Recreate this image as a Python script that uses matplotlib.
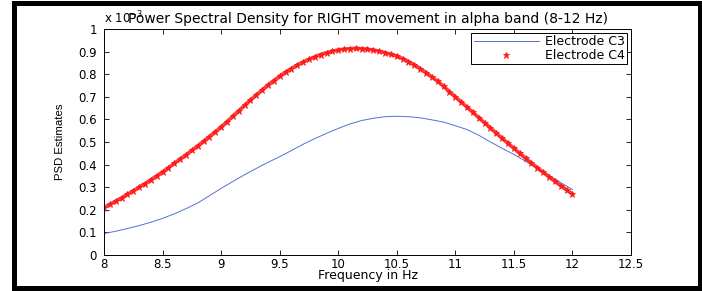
import numpy as np
import matplotlib.pyplot as plt
from matplotlib.lines import Line2D
from matplotlib.patches import Rectangle

plt.rcParams['font.family'] = ['DejaVu Sans']

# Electrode C3 (blue line), frequency in Hz, PSD in units of 1e-3
freq_c3 = [8.0, 8.1, 8.2, 8.3, 8.4, 8.5, 8.6, 8.7, 8.8, 8.9,
           9.0, 9.1, 9.2, 9.3, 9.4, 9.5, 9.6, 9.7, 9.8, 9.9,
           10.0, 10.1, 10.2, 10.3, 10.4, 10.5, 10.6, 10.7, 10.8, 10.9,
           11.0, 11.1, 11.2, 11.3, 11.4, 11.5, 11.6, 11.7, 11.8, 11.9, 12.0]
psd_c3 = [0.095, 0.105, 0.117, 0.130, 0.145, 0.162, 0.182, 0.205, 0.230, 0.262,
          0.295, 0.325, 0.355, 0.383, 0.410, 0.435, 0.462, 0.490, 0.515, 0.538,
          0.560, 0.580, 0.595, 0.605, 0.612, 0.614, 0.612, 0.607, 0.598, 0.588,
          0.572, 0.555, 0.530, 0.500, 0.472, 0.445, 0.415, 0.383, 0.352, 0.320, 0.290]

# Electrode C4 (red stars)
freq_c4 = [8.00, 8.05, 8.10, 8.15, 8.20, 8.25, 8.30, 8.35, 8.40, 8.45,
           8.50, 8.55, 8.60, 8.65, 8.70, 8.75, 8.80, 8.85, 8.90, 8.95,
           9.00, 9.05, 9.10, 9.15, 9.20, 9.25, 9.30, 9.35, 9.40, 9.45,
           9.50, 9.55, 9.60, 9.65, 9.70, 9.75, 9.80, 9.85, 9.90, 9.95,
           10.00, 10.05, 10.10, 10.15, 10.20, 10.25, 10.30, 10.35, 10.40, 10.45,
           10.50, 10.55, 10.60, 10.65, 10.70, 10.75, 10.80, 10.85, 10.90, 10.95,
           11.00, 11.05, 11.10, 11.15, 11.20, 11.25, 11.30, 11.35, 11.40, 11.45,
           11.50, 11.55, 11.60, 11.65, 11.70, 11.75, 11.80, 11.85, 11.90, 11.95, 12.00]
psd_c4 = [0.210, 0.224, 0.238, 0.253, 0.268, 0.284, 0.300, 0.316, 0.333, 0.350,
          0.368, 0.386, 0.405, 0.424, 0.443, 0.463, 0.483, 0.503, 0.524, 0.545,
          0.566, 0.590, 0.614, 0.638, 0.662, 0.685, 0.708, 0.730, 0.752, 0.772,
          0.791, 0.809, 0.825, 0.840, 0.854, 0.866, 0.877, 0.887, 0.895, 0.902,
          0.907, 0.911, 0.913, 0.914, 0.913, 0.911, 0.907, 0.902, 0.895, 0.888,
          0.880, 0.869, 0.856, 0.841, 0.825, 0.807, 0.788, 0.768, 0.746, 0.723,
          0.700, 0.677, 0.654, 0.631, 0.608, 0.585, 0.562, 0.539, 0.516, 0.494,
          0.472, 0.450, 0.428, 0.407, 0.386, 0.366, 0.346, 0.326, 0.307, 0.288, 0.270]

x_ticks = [8, 8.5, 9, 9.5, 10, 10.5, 11, 11.5, 12, 12.5]
x_labels = ['8', '8.5', '9', '9.5', '10', '10.5', '11', '11.5', '12', '12.5']
y_ticks = [0, 0.1, 0.2, 0.3, 0.4, 0.5, 0.6, 0.7, 0.8, 0.9, 1]
y_labels = ['0', '0.1', '0.2', '0.3', '0.4', '0.5', '0.6', '0.7', '0.8', '0.9', '1']

W, H = 702, 291
fig = plt.figure(figsize=(W / 100, H / 100), dpi=100)
ax = fig.add_axes([104 / W, (H - 255) / H, 527 / W, 226 / H])

red = '#ff1a1a'
blue = '#5570d4'
ax.plot(freq_c3, psd_c3, color=blue, lw=0.7)
ax.plot(freq_c4, psd_c4, color=red, lw=2.6, alpha=0.85)
ax.plot(freq_c4, psd_c4, ls='none', marker='*', ms=4.5, color=red, mec=red, mew=0.6)

ax.set_xlim(8, 12.5)
ax.set_ylim(0, 1)
ax.set_xticks(x_ticks, x_labels)
ax.set_yticks(y_ticks, y_labels)
ax.tick_params(direction='in', length=3.5, width=0.6, labelsize=8.5, top=True, right=True,
               colors='black')
ax.tick_params(axis='x', pad=2)
ax.tick_params(axis='y', pad=5)
for sp in ax.spines.values():
    sp.set_linewidth(0.7)

ax.set_title('Power Spectral Density for RIGHT movement in alpha band (8-12 Hz)', fontsize=10, pad=4)
ax.set_xlabel('Frequency in Hz', fontsize=9, labelpad=-1)
ax.set_ylabel('PSD Estimates', fontsize=8.2, labelpad=10,
              family=['Liberation Sans Narrow', 'Liberation Sans'])
ax.text(0.0, 1.01, r'x 10$^{-3}$', transform=ax.transAxes, fontsize=8.5, ha='left', va='bottom',
        zorder=1)

handles = [Line2D([], [], color=blue, lw=0.7),
           Line2D([], [], ls='none', marker='*', ms=4.5, color=red, mew=0.6)]
leg = ax.legend(handles, ['Electrode C3', 'Electrode C4'], loc='upper right', fontsize=9,
                fancybox=False, edgecolor='black', framealpha=1, borderaxespad=0.3,
                handlelength=5.2, handletextpad=0.5, labelspacing=0.05, borderpad=0.2)
leg.get_frame().set_linewidth(0.7)

# thick black frame round the whole picture
fig.patches.append(Rectangle((13.5 / W, 3 / H), 686 / W, 285 / H, transform=fig.transFigure,
                             fill=False, edgecolor='black', lw=3.6))

fig.savefig('out.png', dpi=100)
